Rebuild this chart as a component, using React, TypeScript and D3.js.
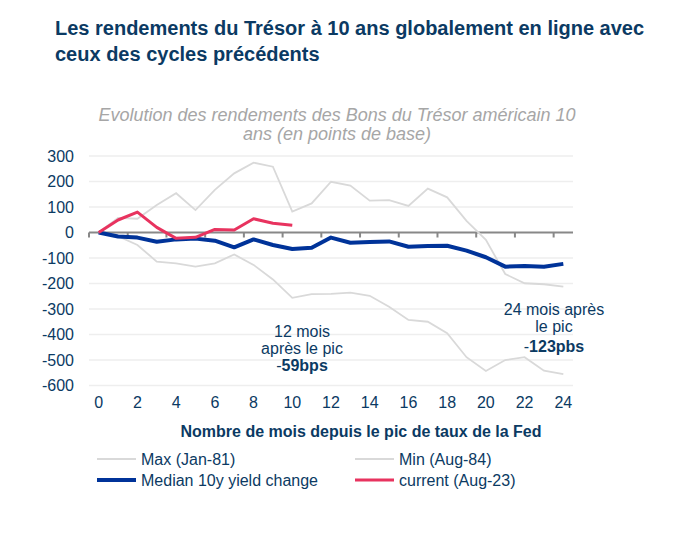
import * as d3 from 'd3';
import React from 'react';

const months = [0, 1, 2, 3, 4, 5, 6, 7, 8, 9, 10, 11, 12, 13, 14, 15, 16, 17, 18, 19, 20, 21, 22, 23, 24];
const maxJan81 = [0, 57, 54, 108, 154, 88, 167, 232, 274, 258, 82, 114, 199, 184, 125, 127, 104, 172, 138, 46, -29, -163, -199, -203, -212];
const minAug84 = [0, -14, -49, -114, -121, -134, -121, -86, -127, -184, -256, -242, -241, -236, -248, -291, -343, -350, -395, -489, -543, -500, -489, -542, -555];
const median = [0, -16, -20, -36, -27, -24, -32, -58, -27, -49, -65, -60, -20, -40, -37, -35, -56, -53, -52, -71, -97, -134, -131, -134, -123];
const current = [0, 49, 80, 20, -23, -19, 12, 10, 54, 36, 28];
const yTicks = [300, 200, 100, 0, -100, -200, -300, -400, -500, -600];
const xTicks = [0, 2, 4, 6, 8, 10, 12, 14, 16, 18, 20, 22, 24];

const navy = '#0b3a63';
const font = 'Liberation Sans, Arial, sans-serif';

const App = () => {
  const x = d3.scaleBand<number>().domain(months).range([89, 573]);
  const cx = (m: number) => (x(m) as number) + x.bandwidth() / 2;
  const y = d3.scaleLinear().domain([-600, 300]).range([385.5, 156]);

  const line = d3
    .line<number>()
    .x((_, i) => cx(months[i]))
    .y(d => y(d));

  // legend entries
  const legend = [
    { label: 'Max (Jan-81)', color: '#d9d9d9', w: 2, lx: 97, ly: 459 },
    { label: 'Min (Aug-84)', color: '#d9d9d9', w: 2, lx: 355, ly: 459 },
    { label: 'Median 10y yield change', color: '#003399', w: 4, lx: 97, ly: 480 },
    { label: 'current (Aug-23)', color: '#e8335f', w: 3, lx: 355, ly: 480 },
  ];

  return (
    <svg
      width={694}
      height={535}
      style={{ position: 'absolute', left: 0, top: 0, background: '#fff' }}
      fontFamily={font}
    >
      <text x={55} y={35} fontSize={20} fontWeight="bold" fill={navy}>
        Les rendements du Trésor à 10 ans globalement en ligne avec
      </text>
      <text x={55} y={61} fontSize={20} fontWeight="bold" fill={navy}>
        ceux des cycles précédents
      </text>

      <text x={337} y={121} fontSize={18} fontStyle="italic" fill="#a6a6a6" textAnchor="middle">
        Evolution des rendements des Bons du Trésor américain 10
      </text>
      <text x={337} y={140} fontSize={18} fontStyle="italic" fill="#a6a6a6" textAnchor="middle">
        ans (en points de base)
      </text>

      {yTicks.map(t => (
        <g key={t}>
          {t !== 0 && (
            <line x1={89} x2={573} y1={y(t)} y2={y(t)} stroke="#eeeeee" strokeWidth={1.5} />
          )}
          <text x={74} y={y(t) + 5.5} fontSize={16} fill={navy} textAnchor="end">
            {t}
          </text>
        </g>
      ))}

      <line x1={89} x2={573} y1={y(0)} y2={y(0)} stroke="#888" strokeWidth={2} />
      {xTicks.map(t => (
        <line key={t} x1={x(t)} x2={x(t)} y1={y(0)} y2={y(0) + 5} stroke="#888" strokeWidth={2} />
      ))}
      {xTicks.map(t => (
        <text key={t} x={cx(t)} y={408} fontSize={16} fill={navy} textAnchor="middle">
          {t}
        </text>
      ))}

      <path d={line(maxJan81) as string} fill="none" stroke="#d9d9d9" strokeWidth={1.8} />
      <path d={line(minAug84) as string} fill="none" stroke="#d9d9d9" strokeWidth={1.8} />
      <path d={line(median) as string} fill="none" stroke="#003399" strokeWidth={4} strokeLinejoin="round" />
      <path d={line(current) as string} fill="none" stroke="#e8335f" strokeWidth={3} strokeLinejoin="round" />

      <g fontSize={16} fill={navy} textAnchor="middle">
        <text x={302} y={337}>12 mois</text>
        <text x={302} y={354}>après le pic</text>
        <text x={302} y={371}>
          -<tspan fontWeight="bold">59bps</tspan>
        </text>
        <text x={554} y={315}>24 mois après</text>
        <text x={554} y={332}>le pic</text>
        <text x={554} y={352}>
          -<tspan fontWeight="bold">123pbs</tspan>
        </text>
      </g>

      <text x={361} y={437} fontSize={16} fontWeight="bold" fill={navy} textAnchor="middle">
        Nombre de mois depuis le pic de taux de la Fed
      </text>

      {legend.map(l => (
        <g key={l.label}>
          <line x1={l.lx} x2={l.lx + 39} y1={l.ly} y2={l.ly} stroke={l.color} strokeWidth={l.w} />
          <text x={l.lx + 44} y={l.ly + 5.5} fontSize={16} fill={navy}>
            {l.label}
          </text>
        </g>
      ))}
    </svg>
  );
};

export default App;
